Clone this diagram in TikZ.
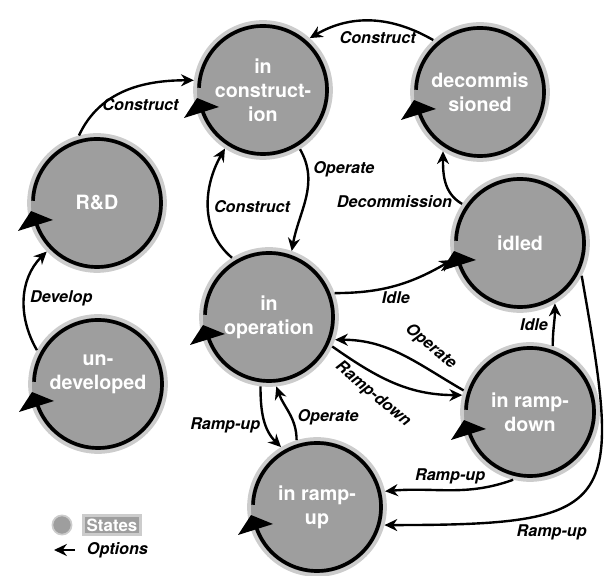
\documentclass[tikz,border=0pt]{standalone}
\usepackage{fontspec}
\setmainfont{TeX Gyre Heros}
\usepackage{tikz}
\usetikzlibrary{arrows.meta}
\usetikzlibrary{calc}
\definecolor{stategray}{gray}{0.62}
\definecolor{halogray}{gray}{0.80}
\tikzset{st/.style={circle,fill=stategray,draw=halogray,line width=2.6pt,minimum size=3.4cm,inner sep=0pt,align=center,text=white,font=\bfseries\fontsize{14}{17}\selectfont}}
\tikzset{l/.style={font=\bfseries\itshape\fontsize{11.5}{13}\selectfont}}
\tikzset{op/.style={-{Stealth[length=3.2mm,width=3mm]},line width=1.7pt}}
\begin{document}
\begin{tikzpicture}[x=0.025cm,y=0.025cm]
          \useasboundingbox (0,0) rectangle (611,576);
          \node[st] (cons) at (263,486) {in\\construct-\\ion};
          \node[st] (decom) at (480,484) {decommis\\sioned};
          \node[st] (rd) at (97,373) {R\&D};
          \node[st] (idled) at (520,333) {idled};
          \node[st] (oper) at (269,259) {in\\operation};
          \node[st] (undev) at (98,192) {un-\\developed\\[0pt]\mbox{}};
          \node[st] (rdown) at (530,164) {in ramp-\\down};
          \node[st] (rup) at (317,69) {in ramp-\\up};
          \foreach \s in {cons,decom,rd,idled,oper,undev,rdown,rup}{
            \draw[line width=2.6pt] ($(\s)+(178:64)$) arc[start angle=178,end angle=-162,radius=64];
            \fill ($(\s)+(-66,-8)$) -- ($(\s)+(-44,-17)$) -- ($(\s)+(-79,-28)$) -- cycle;
          }
          \draw[op] (rd.105) to[out=65,in=180] node[l, pos=0.62, below=5pt] {Construct} (cons.172);
          \draw[op] (decom.132) to[out=150,in=30] node[l, pos=0.45, below=3pt] {Construct} (cons.48);
          \draw[op] (cons.302) to[out=-60,in=80] node[l, pos=0.2, right] {Operate} (oper.71);
          \draw[op] (oper.122) to[out=140,in=240] node[l, pos=0.5, right] {Construct} (cons.237);
          \draw[op] (idled.146) to[out=150,in=270] node[l, pos=0.08, left] {Decommission} (decom.238);
          \draw[op] (oper.20) to[out=0,in=210] node[l, pos=0.5, below] {Idle} (idled.194);
          \draw[op] (rdown.162) to[out=150,in=0] node[l, pos=0.33, above=6pt, rotate=-40] {Operate} (oper.341);
          \draw[op] (oper.335) to[out=-35,in=180] node[l, pos=0.4, below=5pt, rotate=-40] {Ramp-down} (rdown.166);
          \draw[op] (rdown.71) to[out=90,in=270] node[l, pos=0.5, left] {Idle} (idled.300);
          \draw[op] (oper.263) to[out=270,in=135] node[l, pos=0.6, left] {Ramp-up} (rup.121);
          \draw[op] (rup.107) to[out=90,in=290] node[l, pos=0.4, right] {Operate} (oper.276);
          \draw[op] (rdown.256) to[out=200,in=5] node[l, pos=0.5, above] {Ramp-up} (rup.13);
          \draw[op] (idled.332) to[out=-80,in=0,looseness=1.9] node[l, pos=0.66, below=5pt] {Ramp-up} (rup.345);
          \draw[op] (undev.151) to[out=120,in=225] node[l, pos=0.5, right] {Develop} (rd.224);
          \node[circle,fill=stategray,draw=halogray,line width=1.2pt,minimum size=0.48cm] (lgc) at (62,51) {};
          \node[fill=stategray,draw=halogray,line width=2pt,text=white,inner sep=2pt,font=\bfseries\fontsize{12}{14}\selectfont] (lgs) at (112,51) {States};
          \coordinate (lga) at (75,26);
          \coordinate (lgb) at (54,26);
          \draw[op] (lga) -- (lgb);
          \node[l, anchor=west] (lgo) at (82,26) {Options};
        \end{tikzpicture}
\end{document}
